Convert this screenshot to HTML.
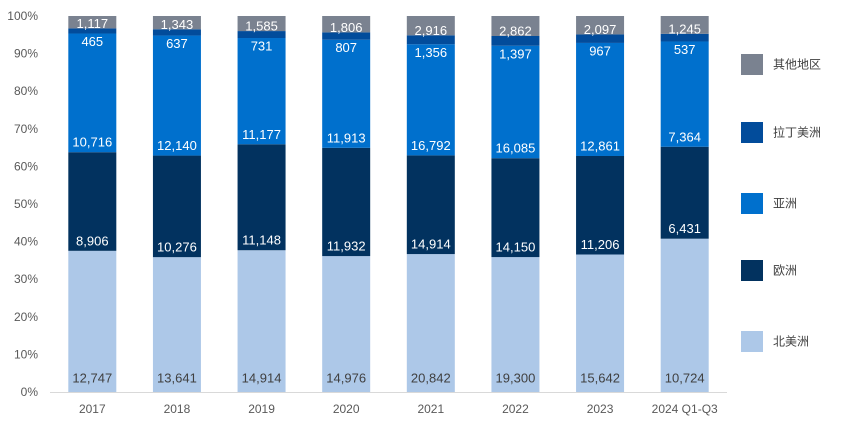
<!DOCTYPE html>
<html><head><meta charset="utf-8"><style>
body{margin:0;background:#fff;}
svg{display:block;font-family:"Liberation Sans","Noto Sans CJK SC",sans-serif;}
</style></head><body>
<svg id="c" width="866" height="425"></svg>
<script>
const categories=["2017","2018","2019","2020","2021","2022","2023","2024 Q1-Q3"];
const seriesNames=["北美洲","欧洲","亚洲","拉丁美洲","其他地区"];
const northAmerica=[12747,13641,14914,14976,20842,19300,15642,10724];
const europe=[8906,10276,11148,11932,14914,14150,11206,6431];
const asia=[10716,12140,11177,11913,16792,16085,12861,7364];
const latinAmerica=[465,637,731,807,1356,1397,967,537];
const others=[1117,1343,1585,1806,2916,2862,2097,1245];
const yTicks=[0,10,20,30,40,50,60,70,80,90,100];
const series=[northAmerica,europe,asia,latinAmerica,others];
const colors=["#adc8e8","#02325f","#0070cd","#024c9b","#7a8290"];
const textColors=["#404040","#fff","#fff","#fff","#fff"];
const labelOffsets=[-14,-10,-10,8,-5];
const ns="http://www.w3.org/2000/svg";
const svg=document.getElementById("c");
const x0=50,plotW=677,y0=392,plotH=376,barW=48;
const step=plotW/categories.length;
const xC=i=>x0+step*(i+0.5);
const yP=p=>y0-p/100*plotH;
function el(t,a){const e=document.createElementNS(ns,t);for(const k in a)e.setAttribute(k,a[k]);svg.appendChild(e);return e;}
yTicks.forEach(t=>{
  const tx=el("text",{x:38,y:yP(t)+4,"text-anchor":"end","font-size":"12",fill:"#595959"});
  
  
  tx.textContent=t+"%";
});
categories.forEach((c,i)=>{
  const tot=series.reduce((s,a)=>s+a[i],0);
  let cum=0;
  series.forEach((arr,k)=>{
    const p0=cum/tot*100;cum+=arr[i];const p1=cum/tot*100;
    const r=el("rect",{x:xC(i)-barW/2,y:yP(p1),width:barW,height:yP(p0)-yP(p1),fill:colors[k]});
    
    
  });
  cum=0;
  series.forEach((arr,k)=>{
    const p0=cum/tot*100;cum+=arr[i];
    const t=el("text",{x:xC(i),y:yP(p0)+labelOffsets[k]+4.5,"text-anchor":"middle","font-size":"13",fill:textColors[k]});
    
    
    t.textContent=arr[i].toLocaleString("en-US");
  });
  const lb=el("text",{x:xC(i),y:413,"text-anchor":"middle","font-size":"12",fill:"#595959"});
  
  
  lb.textContent=c;
});
const ax=el("line",{x1:x0,x2:x0+plotW,y1:y0+0.5,y2:y0+0.5,stroke:"#d9d9d9","stroke-width":1});


const legY=[341,270,203,132,64];
seriesNames.forEach((n,k)=>{
  const r=el("rect",{x:741,y:legY[k]-10,width:22,height:21,fill:colors[k]});
  
  
  const t=el("text",{x:773,y:legY[k]+4.5,"font-size":"12",fill:"#404040"});
  
  
  t.textContent=n;
});
</script>
</body></html>
